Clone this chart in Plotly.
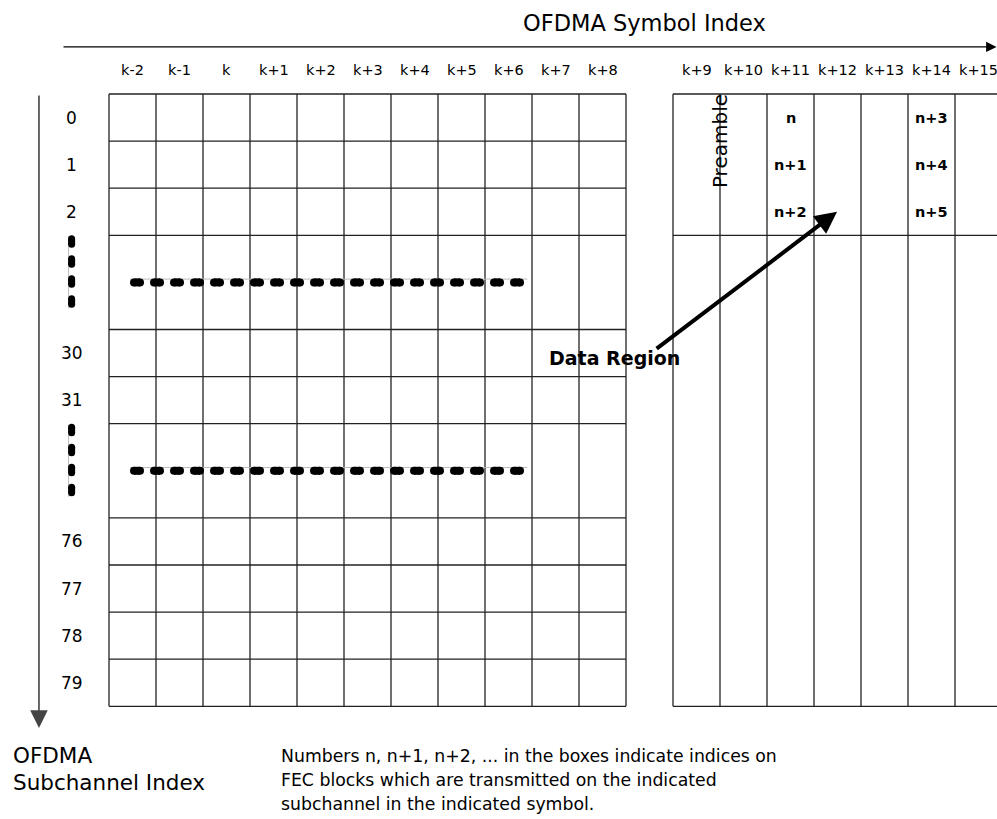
import plotly.graph_objects as go

# ---------------- data ----------------
symbols_left = ["k-2", "k-1", "k", "k+1", "k+2", "k+3", "k+4", "k+5", "k+6", "k+7", "k+8"]
symbols_right = ["k+9", "k+10", "k+11", "k+12", "k+13", "k+14", "k+15"]

row_labels = ["0", "1", "2", "", "30", "31", "", "76", "77", "78", "79"]
row_spans = [1, 1, 1, 2, 1, 1, 2, 1, 1, 1, 1]

fec_labels = ["n", "n+1", "n+2", "n+3", "n+4", "n+5"]
fec_symbols = ["k+11", "k+11", "k+11", "k+14", "k+14", "k+14"]
fec_subchannels = ["0", "1", "2", "0", "1", "2"]

preamble_symbol_boundary = ("k+9", "k+10")
data_region_target = ("k+12", "2")

x_title = "OFDMA Symbol Index"
y_title_lines = ["OFDMA", "Subchannel Index"]
note_lines = [
    "Numbers n, n+1, n+2, ... in the boxes indicate indices on",
    "FEC blocks which are transmitted on the indicated",
    "subchannel in the indicated symbol.",
]

# ---------------- geometry (grid units) ----------------
W, H = 997, 819
CELL_W, CELL_H = 47.0, 47.1
X0, Y0 = 109.0, 94.0
xr = [-X0 / CELL_W, (W - X0) / CELL_W]
yr = [(H - Y0) / CELL_H, -Y0 / CELL_H]

FONT = "DejaVu Sans, sans-serif"
LINE = "#222222"

n_left = len(symbols_left)
right_start = n_left + 1
col_pos = {s: i for i, s in enumerate(symbols_left)}
col_pos.update({s: right_start + i for i, s in enumerate(symbols_right)})

row_top = []
acc = 0
for sp in row_spans:
    row_top.append(acc)
    acc += sp
n_rows = acc
row_pos = {lab: row_top[i] for i, lab in enumerate(row_labels) if lab}

fig = go.Figure()


def add_lines(xs, ys, color=LINE, width=1.3, dash=None):
    fig.add_trace(go.Scatter(x=xs, y=ys, mode="lines",
                             line=dict(color=color, width=width, dash=dash),
                             hoverinfo="skip", showlegend=False))


def add_round_dashes(x0, y0, horizontal, n, period_px, dash_px, thick_px):
    """Stadium-shaped dashes: butt segments plus round end markers."""
    unit = CELL_W if horizontal else CELL_H
    xs, ys, mx, my = [], [], [], []
    for i in range(n):
        a = (i * period_px + thick_px / 2) / unit
        b = (i * period_px + dash_px - thick_px / 2) / unit
        if horizontal:
            xs += [x0 + a, x0 + b, None]
            ys += [y0, y0, None]
            mx += [x0 + a, x0 + b]
            my += [y0, y0]
        else:
            xs += [x0, x0, None]
            ys += [y0 + a, y0 + b, None]
            mx += [x0, x0]
            my += [y0 + a, y0 + b]
    fig.add_trace(go.Scatter(x=xs, y=ys, mode="lines", line=dict(color="black", width=thick_px),
                             hoverinfo="skip", showlegend=False))
    fig.add_trace(go.Scatter(x=mx, y=my, mode="markers",
                             marker=dict(color="black", size=thick_px, line=dict(width=0)),
                             hoverinfo="skip", showlegend=False))


# left grid
xs, ys = [], []
for c in range(n_left + 1):
    xs += [c, c, None]
    ys += [0, n_rows, None]
bounds = set([0, n_rows])
for i, sp in enumerate(row_spans):
    bounds.add(row_top[i])
    bounds.add(row_top[i] + sp)
for r in sorted(bounds):
    xs += [0, n_left, None]
    ys += [r, r, None]
add_lines(xs, ys)

# right grid
xs, ys = [], []
n_right = len(symbols_right)
for c in range(right_start, right_start + n_right + 1):
    xs += [c, c, None]
    ys += [0, n_rows, None]
for r in [0, row_pos["2"] + 1, n_rows]:
    xs += [right_start, right_start + n_right, None]
    ys += [r, r, None]
add_lines(xs, ys)

# gap indicators (dotted)
for i, sp in enumerate(row_spans):
    if row_labels[i] == "":
        mid = row_top[i] + sp / 2
        top = row_top[i]
        add_lines([0.45, 8.9], [mid - 0.07, mid - 0.07], color="#bbbbbb", width=1)
        add_round_dashes(0.447, mid, True, 20, 20, 14, 8)
        add_lines([-0.86, -0.86], [top + 0.02, top + 1.55], color="#bbbbbb", width=1)
        add_round_dashes(-0.795, top, False, 4, 20, 12.5, 7)

annotations = []
# column labels
for s, c in col_pos.items():
    annotations.append(dict(x=c + 0.5, y=-0.5, text=s, showarrow=False,
                            font=dict(family=FONT, size=14.5, color="black")))
# row labels
for lab, r in row_pos.items():
    annotations.append(dict(x=-0.79, y=r + 0.5, text=lab, showarrow=False,
                            font=dict(family=FONT, size=17, color="black")))
# FEC block labels
for lab, s, sc in zip(fec_labels, fec_symbols, fec_subchannels):
    annotations.append(dict(x=col_pos[s] + 0.5, y=row_pos[sc] + 0.5, text="<b>%s</b>" % lab,
                            showarrow=False, font=dict(family=FONT, size=14.5, color="black")))
# Preamble
annotations.append(dict(x=col_pos[preamble_symbol_boundary[1]], y=1.0, text="Preamble",
                        textangle=-90, showarrow=False,
                        font=dict(family=FONT, size=20, color="black")))
# Data region arrow
tx = col_pos[data_region_target[0]] + 0.49
ty = row_pos[data_region_target[1]] + 0.5
annotations.append(dict(x=tx, y=ty, ax=11.62, ay=5.43, axref="x", ayref="y", text="",
                        showarrow=True, arrowhead=2, arrowwidth=4, arrowsize=1.1,
                        arrowcolor="black", standoff=0))
annotations.append(dict(x=10.75, y=5.6, text="<b>Data Region</b>", showarrow=False,
                        font=dict(family=FONT, size=19, color="black")))
# axes arrows
annotations.append(dict(x=xr[1] - 0.01, y=-1.0, ax=-1.0, ay=-1.0, axref="x", ayref="y", text="",
                        showarrow=True, arrowhead=2, arrowwidth=1.3, arrowsize=1.6,
                        arrowcolor="black", standoff=0))
annotations.append(dict(x=-1.49, y=13.46, ax=-1.49, ay=0.0, axref="x", ayref="y", text="",
                        showarrow=True, arrowhead=2, arrowwidth=1.6, arrowsize=2.2,
                        arrowcolor="#444444", standoff=0))
# titles
annotations.append(dict(x=11.4, y=-1.5, text=x_title, showarrow=False,
                        font=dict(family=FONT, size=22.5, color="black")))
for i, ln in enumerate(y_title_lines):
    annotations.append(dict(x=-2.09, y=14.05 + i * 0.575, text=ln, showarrow=False,
                            xanchor="left", font=dict(family=FONT, size=21.5, color="black")))
for i, ln in enumerate(note_lines):
    annotations.append(dict(x=3.62, y=14.06 + i * 0.51, text=ln, showarrow=False,
                            xanchor="left", font=dict(family=FONT, size=17.3, color="black")))

fig.update_layout(
    width=W, height=H, autosize=False,
    margin=dict(l=0, r=0, t=0, b=0),
    paper_bgcolor="white", plot_bgcolor="white",
    xaxis=dict(range=xr, visible=False, fixedrange=True),
    yaxis=dict(range=yr, visible=False, fixedrange=True),
    annotations=annotations,
    showlegend=False,
)

fig.write_html("out.html", config={"displayModeBar": False},
               post_script="document.body.style.margin='0';document.body.style.overflow='hidden';")
